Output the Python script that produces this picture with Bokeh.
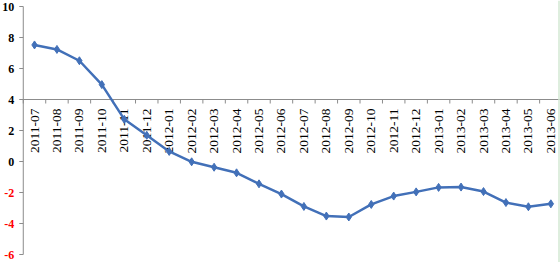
import math
from bokeh.plotting import figure
from bokeh.models import Range1d, Span
from bokeh.core.properties import value
from bokeh.embed import file_html
from bokeh.resources import INLINE

categories = ["2011-07", "2011-08", "2011-09", "2011-10", "2011-11", "2011-12",
              "2012-01", "2012-02", "2012-03", "2012-04", "2012-05", "2012-06",
              "2012-07", "2012-08", "2012-09", "2012-10", "2012-11", "2012-12",
              "2013-01", "2013-02", "2013-03", "2013-04", "2013-05", "2013-06"]
rates = [7.52, 7.23, 6.50, 4.96, 2.72, 1.69, 0.65, -0.02, -0.37, -0.73, -1.44, -2.10,
         -2.90, -3.52, -3.58, -2.77, -2.23, -1.96, -1.67, -1.65, -1.94, -2.65, -2.92, -2.73]
y_ticks = [-6, -4, -2, 0, 2, 4, 6, 8, 10]
y_tick_labels = ["-6", "-4", "-2", "0", "2", "4", "6", "8", "10"]
axis_cross = 4

idx = list(range(len(categories)))
W, H = 560, 262
px_x = 22.45            # pixels per category
x0_px = 34              # pixel column of first category
top_px, bot_px = 6, 254  # pixel rows of 10 and -6
px_y = (bot_px - top_px) / 16.0

p = figure(width=W, height=H, output_backend="svg", toolbar_location=None,
           x_range=Range1d(-x0_px / px_x, (W - x0_px) / px_x),
           y_range=Range1d(-6 - (H - bot_px) / px_y, 10 + top_px / px_y),
           x_axis_type=None, y_axis_type=None, min_border=0)
p.grid.visible = False
p.outline_line_color = None
p.background_fill_color = "white"
p.border_fill_color = "white"

axis_color = "#8c8c8c"
left = -0.5
# value axis
p.segment(x0=[left], y0=[y_ticks[0]], x1=[left], y1=[y_ticks[-1]],
          line_color=axis_color, line_width=1)
p.segment(x0=[left - 4 / px_x] * len(y_ticks), y0=y_ticks,
          x1=[left] * len(y_ticks), y1=y_ticks, line_color=axis_color, line_width=1)
label_colors = ["#ff0000" if v < 0 else "#000000" for v in y_ticks]
p.text(x=[left] * len(y_ticks), y=y_ticks, text=y_tick_labels,
       text_align="right", text_baseline="middle", x_offset=-9,
       text_font=value("Liberation Serif"), text_font_style="bold",
       text_font_size="12px", text_color=label_colors)

# category axis crossing at 4
bounds = [i - 0.5 for i in range(len(categories) + 1)]
p.segment(x0=[bounds[0]], y0=[axis_cross], x1=[bounds[-1]], y1=[axis_cross],
          line_color=axis_color, line_width=1)
p.segment(x0=bounds, y0=[axis_cross] * len(bounds), x1=bounds,
          y1=[axis_cross - 4 / px_y] * len(bounds), line_color=axis_color, line_width=1)
p.text(x=idx, y=[axis_cross] * len(idx), text=categories, angle=math.pi / 2,
       text_align="right", text_baseline="middle", y_offset=9,
       text_font=value("Liberation Serif"), text_font_size="13.5px", text_color="black")

# series
line_color = "#4270b8"
p.line(idx, rates, line_color=line_color, line_width=2.5)
p.scatter(idx, rates, marker="diamond", size=8, fill_color=line_color,
          line_color=line_color)

# faint right border
p.add_layout(Span(location=(W - 1.5 - x0_px) / px_x, dimension="height",
                  line_color="#d3e9d3", line_width=1.5))

open("out.html", "w").write(file_html(p, INLINE))
